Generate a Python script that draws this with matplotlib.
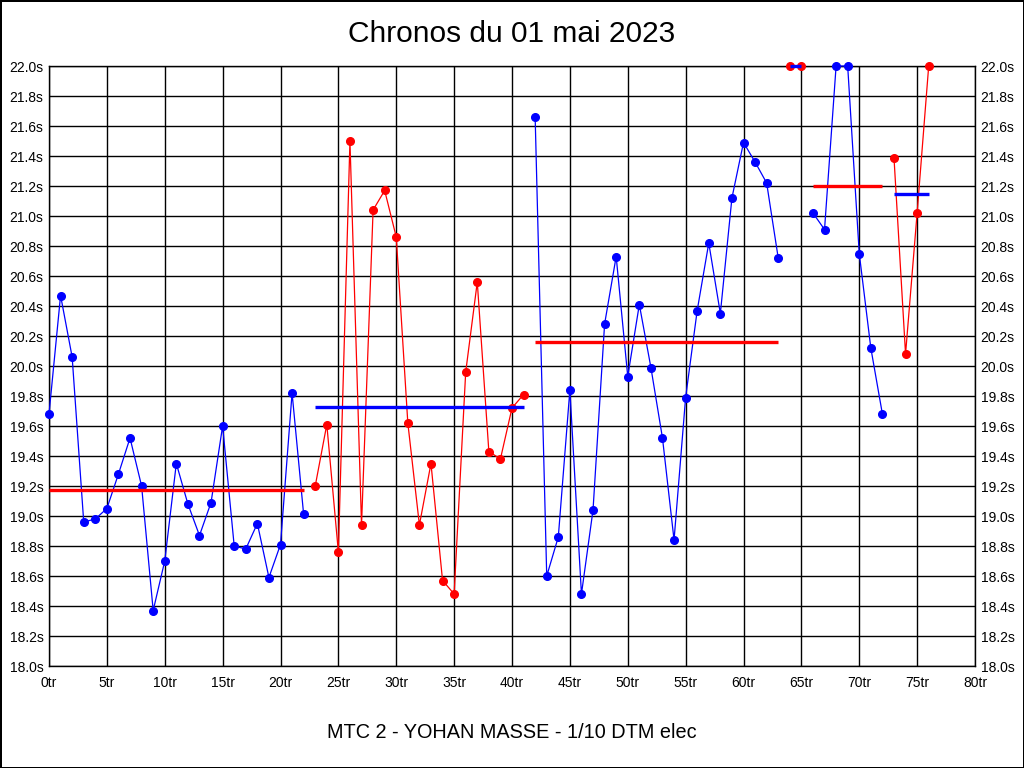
import matplotlib
matplotlib.use("Agg")
import matplotlib.pyplot as plt
import numpy as np

# Lap times (s)
lap_times = [
    19.68, 20.47, 20.06, 18.96, 18.98, 19.05, 19.28, 19.52, 19.20, 18.37,
    18.70, 19.35, 19.08, 18.87, 19.09, 19.60, 18.80, 18.78, 18.95, 18.59,
    18.81, 19.82, 19.01,
    19.20, 19.61, 18.76, 21.50, 18.94, 21.04, 21.17, 20.86, 19.62, 18.94,
    19.35, 18.57, 18.48, 19.96, 20.56, 19.43, 19.38, 19.72, 19.81,
    21.66, 18.60, 18.86, 19.84, 18.48, 19.04, 20.28, 20.73, 19.93, 20.41,
    19.99, 19.52, 18.84, 19.79, 20.37, 20.82, 20.35, 21.12, 21.49, 21.36,
    21.22, 20.72,
    22.00, 22.00,
    21.02, 20.91, 22.00, 22.00, 20.75, 20.12, 19.68,
    21.39, 20.08, 21.02, 22.00,
]

# Stints: first lap, last lap, colour, average time
seg_start = [0, 23, 42, 64, 66, 73]
seg_end = [22, 41, 63, 65, 72, 76]
seg_colors = ["blue", "red", "blue", "red", "blue", "red"]
seg_avg = [19.17, 19.73, 20.16, 22.00, 21.20, 21.145]

x_ticks = np.arange(0, 81, 5)
x_labels = [f"{t}tr" for t in x_ticks]
y_ticks = np.arange(18.0, 22.01, 0.2)
y_labels = [f"{t:.1f}s" for t in y_ticks]


def main():
    plt.rcParams["font.family"] = ["Liberation Sans", "DejaVu Sans"]

    fig = plt.figure(figsize=(10.24, 7.68), dpi=100,
                     linewidth=1, edgecolor="black")
    ax = fig.add_axes([49 / 1024, 1 - 666 / 768, 926 / 1024, 600 / 768])

    laps = np.arange(len(lap_times))
    times = np.array(lap_times)

    for s, e, c, avg in zip(seg_start, seg_end, seg_colors, seg_avg):
        ax.plot(laps[s:e + 1], times[s:e + 1], color=c, linewidth=0.9,
                marker="o", markersize=5.5, clip_on=False, zorder=3)
        avg_color = "red" if c == "blue" else "blue"
        ax.plot([s, e], [avg, avg], color=avg_color, linewidth=2.4,
                solid_capstyle="butt", clip_on=False, zorder=4)

    ax.set_xlim(0, 80)
    ax.set_ylim(18.0, 22.0)
    ax.set_xticks(x_ticks)
    ax.set_xticklabels(x_labels)
    ax.set_yticks(y_ticks)
    ax.set_yticklabels(y_labels)
    ax.grid(True, color="black", linewidth=1)
    ax.set_axisbelow(True)
    ax.tick_params(length=0, labelsize=10, right=True, labelright=True)
    ax.tick_params(axis="y", pad=4)
    ax.tick_params(axis="x", pad=7)
    for sp in ax.spines.values():
        sp.set_color("black")
        sp.set_linewidth(1)

    fig.text(0.5, 1 - 34 / 768, "Chronos du 01 mai 2023", ha="center",
             va="center", fontsize=21.5)
    fig.text(0.5, 1 - 733 / 768, "MTC 2 - YOHAN MASSE - 1/10 DTM elec",
             ha="center", va="center", fontsize=14.3)

    fig.savefig("out.png", dpi=100, edgecolor=fig.get_edgecolor())


if __name__ == "__main__":
    main()
